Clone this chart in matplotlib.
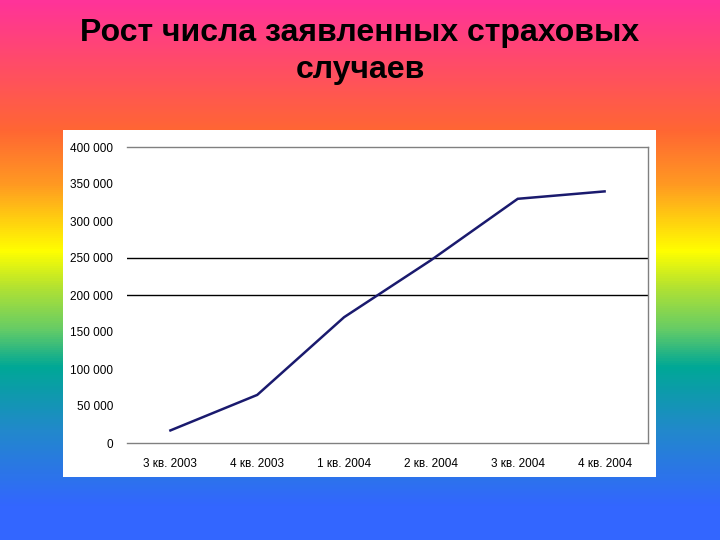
import numpy as np
import matplotlib
matplotlib.use("Agg")
import matplotlib.pyplot as plt
from matplotlib.colors import LinearSegmentedColormap
from matplotlib.patches import Rectangle
from matplotlib.ticker import FuncFormatter

# Data
categories = ["3 кв. 2003", "4 кв. 2003", "1 кв. 2004", "2 кв. 2004", "3 кв. 2004", "4 кв. 2004"]
claims = [17000, 65000, 170000, 247000, 330000, 340000]
y_ticks = [0, 50000, 100000, 150000, 200000, 250000, 300000, 350000, 400000]
grid_levels = [200000, 250000]
title_lines = ["Рост числа заявленных страховых", "случаев"]

plt.rcParams['font.family'] = ['Liberation Sans', 'DejaVu Sans']

fig = plt.figure(figsize=(7.2, 5.4), dpi=100)

# Rainbow gradient background
bg = fig.add_axes([0, 0, 1, 1], zorder=-10)
stops = [
    (0.00, "#FF3399"),
    (0.24, "#FF6633"),
    (0.34, "#FF9922"),
    (0.465, "#FFFF00"),
    (0.53, "#B5E330"),
    (0.61, "#66CC66"),
    (0.68, "#00A896"),
    (0.80, "#2288CC"),
    (0.94, "#3366FF"),
    (1.00, "#3366FF"),
]
cmap = LinearSegmentedColormap.from_list("rainbow_bg", stops)
grad = np.linspace(0, 1, 540).reshape(-1, 1)
bg.imshow(grad, aspect="auto", cmap=cmap, extent=[0, 1, 0, 1], origin="upper")
bg.set_axis_off()

# White chart panel
fig.patches.append(Rectangle((63/720, 1-477/540), 593/720, 347/540,
                             transform=fig.transFigure, facecolor="white",
                             edgecolor="none", zorder=-5))

# Title
fig.text(0.5, 1-33/540, title_lines[0], ha="center", va="center",
         fontsize=23, fontweight="bold", color="black")
fig.text(0.5, 1-70/540, title_lines[1], ha="center", va="center",
         fontsize=23, fontweight="bold", color="black")

ax = fig.add_axes([127/720, 1-443/540, 521/720, 296/540])
ax.set_facecolor("none")
x = np.arange(len(categories))
ax.plot(x, claims, color="#1a1a6e", lw=1.8, solid_joinstyle="miter", zorder=3)
for g in grid_levels:
    ax.axhline(g, color="black", lw=1.0, zorder=1)

ax.set_xlim(-0.5, len(categories) - 0.5)
ax.set_ylim(0, 400000)
ax.set_yticks(y_ticks)
ax.yaxis.set_major_formatter(FuncFormatter(lambda v, p: f"{int(v):,}".replace(",", " ")))
ax.set_xticks(x)
ax.set_xticklabels(categories)
ax.tick_params(axis="both", length=0, labelsize=8.5, colors="black")
ax.tick_params(axis="y", pad=10)
ax.tick_params(axis="x", pad=11)

ax.spines["left"].set_visible(False)
for s in ["top", "right", "bottom"]:
    ax.spines[s].set_color("#808080")
    ax.spines[s].set_linewidth(1.0)

fig.savefig("out.png", dpi=100)
